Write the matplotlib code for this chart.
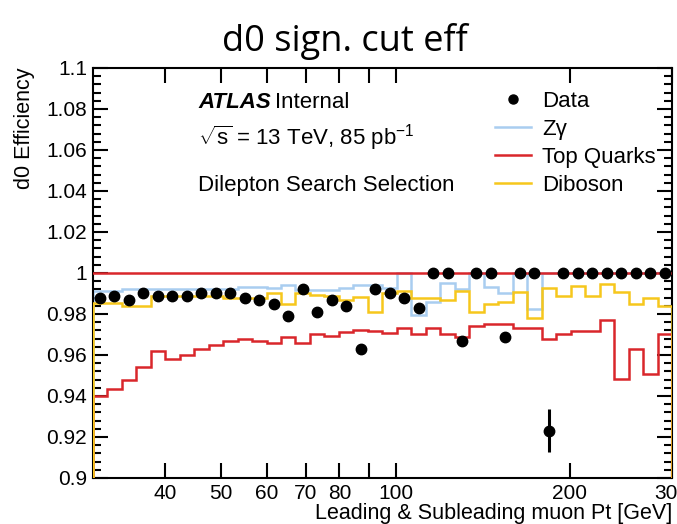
import numpy as np
import matplotlib
matplotlib.use("Agg")
import matplotlib.pyplot as plt
from matplotlib.lines import Line2D
from matplotlib.ticker import FixedLocator, FixedFormatter, MultipleLocator, FuncFormatter, NullLocator

plt.rcParams['font.family'] = ['Liberation Sans', 'DejaVu Sans']
plt.rcParams['mathtext.fontset'] = 'custom'
plt.rcParams['mathtext.rm'] = 'Liberation Sans'
plt.rcParams['mathtext.it'] = 'Liberation Sans:italic'

# 40 log bins between 30 and 300 GeV
bin_edges = np.geomspace(30, 300, 41)

# efficiency per bin
data_eff = [0.988, 0.989, 0.987, 0.990, 0.989, 0.989, 0.989, 0.990, 0.990, 0.990,
            0.988, 0.987, 0.985, 0.979, 0.992, 0.981, 0.987, 0.984, 0.963, 0.992,
            0.990, 0.988, 0.983, 1.000, 1.000, 0.967, 1.000, 1.000, 0.969, 1.000,
            1.000, 0.923, 1.000, 1.000, 1.000, 1.000, 1.000, 1.000, 1.000, 1.000]
data_err = [0.0] * 31 + [0.0105] + [0.0] * 8

zgamma_eff = [0.991, 0.991, 0.992, 0.992, 0.992, 0.992, 0.992, 0.992, 0.992, 0.992,
              0.993, 0.993, 0.9925, 0.994, 0.9915, 0.9915, 0.9915, 0.9925, 0.994, 0.994,
              0.9925, 1.000, 0.9795, 0.986, 0.995, 0.992, 1.000, 0.993, 0.990, 1.000,
              0.9825, 1.000, 1.000, 1.000, 1.000, 1.000, 1.000, 1.000, 1.000, 1.000]

top_eff = [0.940, 0.9435, 0.948, 0.954, 0.962, 0.958, 0.960, 0.963, 0.965, 0.9666,
           0.968, 0.9666, 0.966, 0.969, 0.966, 0.970, 0.9695, 0.971, 0.9723, 0.9715,
           0.9707, 0.973, 0.9703, 0.973, 0.9703, 0.9686, 0.974, 0.975, 0.975, 0.973,
           0.9733, 0.968, 0.970, 0.9718, 0.9715, 0.9772, 0.9483, 0.963, 0.9505, 0.970]

diboson_eff = [0.9855, 0.9855, 0.984, 0.984, 0.989, 0.989, 0.989, 0.989, 0.989, 0.988,
               0.988, 0.988, 0.990, 0.985, 0.990, 0.9895, 0.989, 0.9868, 0.9885, 0.981,
               0.990, 0.991, 0.9876, 0.9876, 0.9868, 0.991, 0.981, 0.9847, 0.9856, 0.9908,
               0.978, 0.9925, 0.9886, 0.9935, 0.989, 0.9948, 0.9905, 0.985, 0.988, 0.984]

xtick_vals = [40, 50, 60, 70, 80, 90, 100, 200, 300]
xtick_labels = ['40', '50', '60', '70', '80', '', '100', '200', '300']

BLUE = '#a9cdf0'
RED = '#d9262b'
YELLOW = '#f6c71c'

fig = plt.figure(figsize=(6.77, 5.24), dpi=100)
ax = fig.add_axes([0.137, 0.0878, 0.8556, 0.7825])

centers = np.sqrt(bin_edges[:-1] * bin_edges[1:])

ax.stairs(zgamma_eff, bin_edges, baseline=0, color=BLUE, lw=1.8, zorder=2)
ax.stairs(top_eff, bin_edges, baseline=0, color=RED, lw=1.8, zorder=3)
ax.stairs(diboson_eff, bin_edges, baseline=0, color=YELLOW, lw=1.8, zorder=3)
ax.axhline(1.0, color=RED, lw=1.8, zorder=4)
ax.errorbar(centers, data_eff, yerr=data_err, fmt='o', color='black', ms=7.5,
            elinewidth=2.2, capsize=0, zorder=5)

ax.set_xscale('log')
ax.set_xlim(30, 300)
ax.set_ylim(0.9, 1.1)

ax.xaxis.set_major_locator(FixedLocator(xtick_vals))
ax.xaxis.set_major_formatter(FixedFormatter(xtick_labels))
ax.xaxis.set_minor_locator(NullLocator())
ax.yaxis.set_major_locator(MultipleLocator(0.02))
ax.yaxis.set_minor_locator(MultipleLocator(0.004))
ax.yaxis.set_major_formatter(FuncFormatter(lambda v, p: '%g' % round(v, 3)))

ax.tick_params(which='both', direction='in', top=True, right=True, labelsize=15, width=1.5)
ax.tick_params(which='major', length=11, pad=4)
ax.tick_params(which='minor', length=5.5)
for s in ax.spines.values():
    s.set_linewidth(1.5)

ax.set_xlabel('Leading & Subleading muon Pt [GeV]', fontsize=15.5, loc='right', labelpad=0)
ax.set_ylabel('d0 Efficiency', fontsize=15.5, loc='top', labelpad=8)

ax.text(0.182, 0.915, 'ATLAS', transform=ax.transAxes, fontsize=16,
        fontweight='bold', fontstyle='italic', va='center')
ax.text(0.315, 0.915, 'Internal', transform=ax.transAxes, fontsize=16, va='center')
ax.text(0.182, 0.83, r'$\sqrt{\mathrm{s}}$ = 13 TeV, 85 pb$^{-1}$', transform=ax.transAxes,
        fontsize=16, va='center')
ax.text(0.182, 0.713, 'Dilepton Search Selection', transform=ax.transAxes,
        fontsize=16, va='center')

handles = [
    Line2D([], [], ls='none', marker='o', ms=6.5, color='black'),
    Line2D([], [], color=BLUE, lw=1.8),
    Line2D([], [], color=RED, lw=1.8),
    Line2D([], [], color=YELLOW, lw=1.8),
]
labels = ['Data', 'Z\u03b3', 'Top Quarks', 'Diboson']
ax.legend(handles, labels, loc='upper left', bbox_to_anchor=(0.695, 0.945),
          frameon=False, fontsize=16, handlelength=1.6, handletextpad=0.5,
          labelspacing=0.32, borderpad=0, borderaxespad=0)

fig.text(0.51, 0.92, 'd0 sign. cut eff', fontsize=26, family=['Open Sans', 'DejaVu Sans'],
         ha='center', va='center')

fig.savefig('out.png', dpi=100)
